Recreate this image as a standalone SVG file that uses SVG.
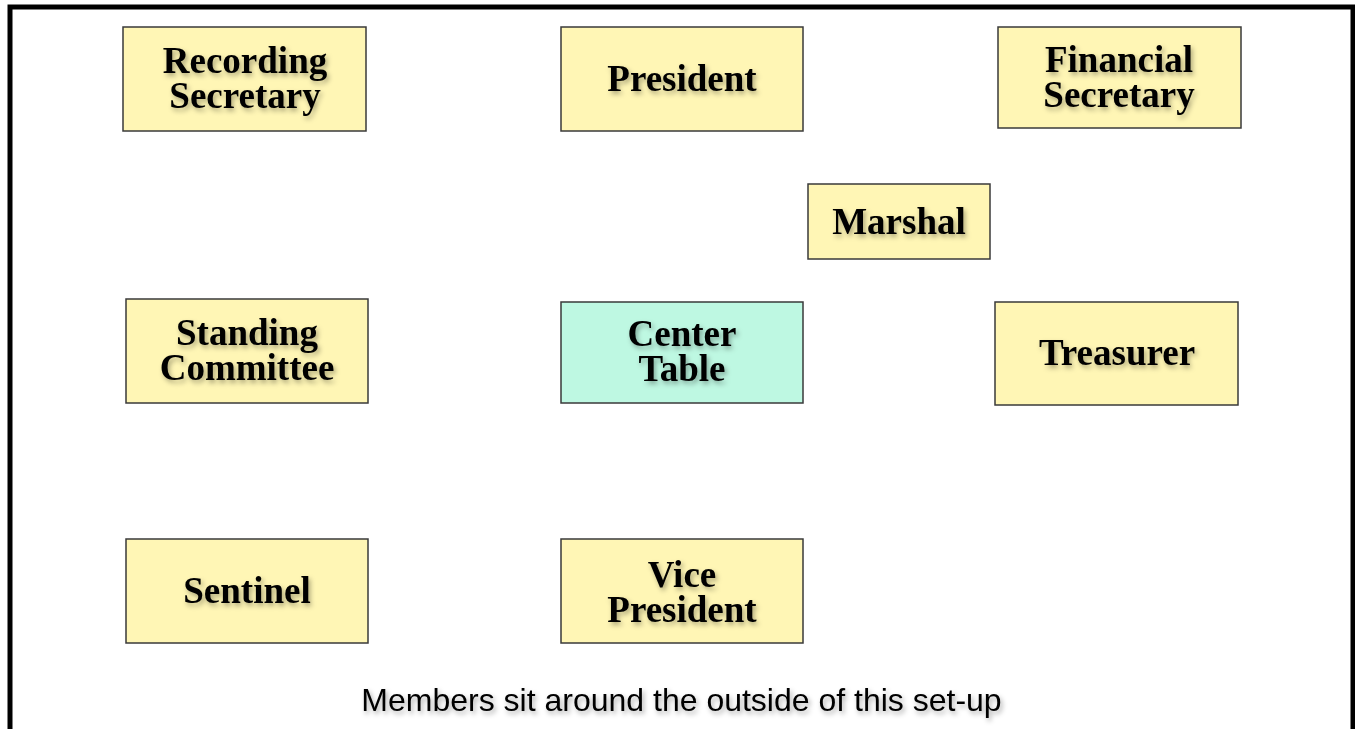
<svg xmlns="http://www.w3.org/2000/svg" width="1355" height="729" viewBox="0 0 1355 729">
<defs>
<filter id="ts" x="-20%" y="-40%" width="150%" height="200%">
<feDropShadow dx="2" dy="3" stdDeviation="2.5" flood-color="#000" flood-opacity="0.33"/>
</filter>
<style>
.box{fill:#FFF6B5;stroke:#3a3a3a;stroke-width:1.5}
.ctr{fill:#BEF8E2;stroke:#3a3a3a;stroke-width:1.5}
.lbl{font-family:"Liberation Serif","Times New Roman",serif;font-weight:bold;font-size:37px;fill:#000;text-anchor:middle;filter:url(#ts)}
.note{font-family:"Liberation Sans",Arial,sans-serif;font-size:32px;fill:#000;text-anchor:middle;filter:url(#ts)}
</style>
</defs>
<rect x="0" y="0" width="1355" height="729" fill="#fff"/>
<rect x="10" y="7" width="1343" height="740" fill="none" stroke="#000" stroke-width="5"/>
<g id="connectors"></g>
<g id="recording-secretary">
<rect class="box" x="123" y="27" width="243" height="104"/>
<text class="lbl"><tspan x="245" y="73">Recording</tspan><tspan x="245" y="108">Secretary</tspan></text>
</g>
<g id="president">
<rect class="box" x="561" y="27" width="242" height="104"/>
<text class="lbl" x="682" y="91">President</text>
</g>
<g id="financial-secretary">
<rect class="box" x="998" y="27" width="243" height="101"/>
<text class="lbl"><tspan x="1119" y="72">Financial</tspan><tspan x="1119" y="107">Secretary</tspan></text>
</g>
<g id="marshal">
<rect class="box" x="808" y="184" width="182" height="75"/>
<text class="lbl" x="899" y="234">Marshal</text>
</g>
<g id="standing-committee">
<rect class="box" x="126" y="299" width="242" height="104"/>
<text class="lbl"><tspan x="247" y="345">Standing</tspan><tspan x="247" y="380">Committee</tspan></text>
</g>
<g id="center-table">
<rect class="ctr" x="561" y="302" width="242" height="101"/>
<text class="lbl"><tspan x="682" y="346">Center</tspan><tspan x="682" y="381">Table</tspan></text>
</g>
<g id="treasurer">
<rect class="box" x="995" y="302" width="243" height="103"/>
<text class="lbl" x="1117" y="365">Treasurer</text>
</g>
<g id="sentinel">
<rect class="box" x="126" y="539" width="242" height="104"/>
<text class="lbl" x="247" y="603">Sentinel</text>
</g>
<g id="vice-president">
<rect class="box" x="561" y="539" width="242" height="104"/>
<text class="lbl"><tspan x="682" y="587">Vice</tspan><tspan x="682" y="622">President</tspan></text>
</g>
<text class="note" x="681.5" y="711">Members sit around the outside of this set-up</text>
</svg>
